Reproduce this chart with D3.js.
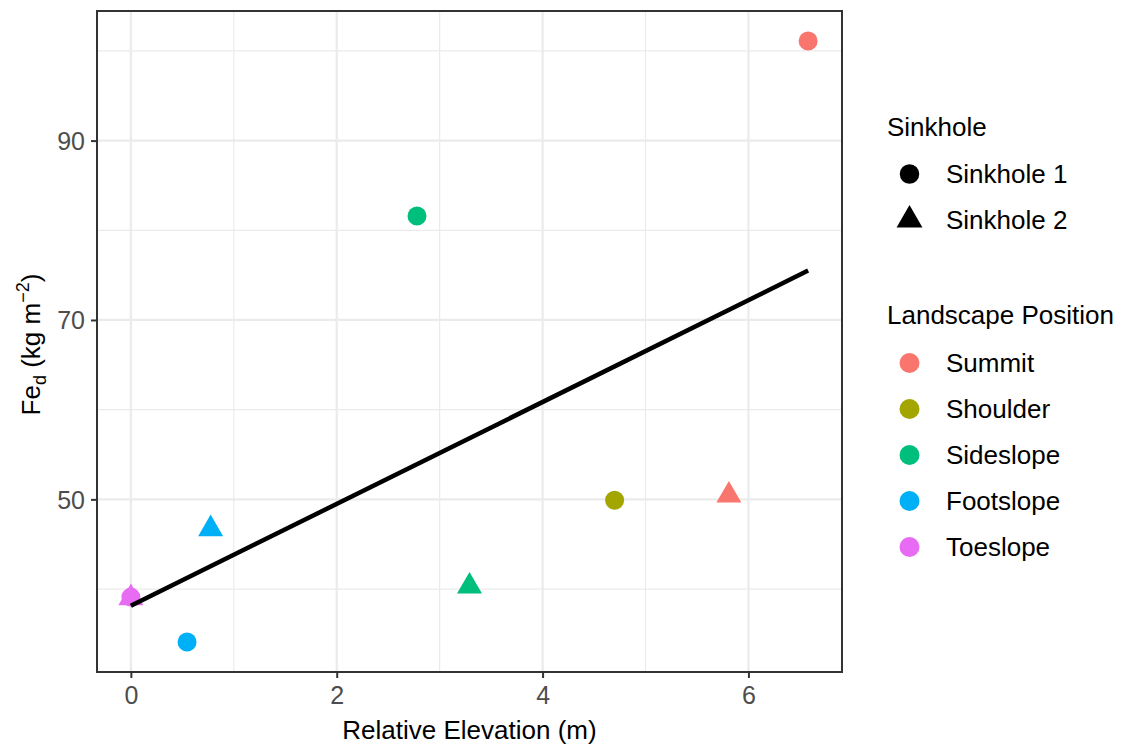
<!DOCTYPE html>
<html>
<head>
<meta charset="utf-8">
<style>
  body { margin: 0; background: #fff; }
  svg { font-family: "Liberation Sans", Arial, Helvetica, sans-serif; }
</style>
</head>
<body>
<svg width="1126" height="747"></svg>
<script src="https://d3js.org/d3.v7.min.js"></script>
<script>
// values
var positions = ["Summit", "Shoulder", "Sideslope", "Footslope", "Toeslope"];
var posColors = ["#F8766D", "#A3A500", "#00BF7D", "#00B0F6", "#E76BF3"];
var sinkholes = ["Sinkhole 1", "Sinkhole 2"];

var elevation = [6.58, 5.81, 4.70, 2.78, 3.29, 0.546, 0.775, 0.0, 0.0];
var fed       = [101.1, 50.45, 49.9, 81.6, 40.3, 34.1, 46.7, 39.1, 39.0];
var pos       = ["Summit", "Summit", "Shoulder", "Sideslope", "Sideslope",
                 "Footslope", "Footslope", "Toeslope", "Toeslope"];
var hole      = ["Sinkhole 1", "Sinkhole 2", "Sinkhole 1", "Sinkhole 1", "Sinkhole 2",
                 "Sinkhole 1", "Sinkhole 2", "Sinkhole 1", "Sinkhole 2"];

var xMajor = [0, 2, 4, 6], xMinor = [1, 3, 5];
var yMajor = [50, 70, 90], yMinor = [40, 60, 80, 100];

var pts = elevation.map(function(e, i) {
  return {x: e, y: fed[i], pos: pos[i], hole: hole[i]};
});

var svg = d3.select("svg");
var pL = 97, pR = 842, pT = 11, pB = 672;

// ggplot style 5% expansion
var xr = d3.extent(elevation), yr = d3.extent(fed);
var xpad = (xr[1] - xr[0]) * 0.05, ypad = (yr[1] - yr[0]) * 0.05;
var x = d3.scaleLinear().domain([xr[0] - xpad, xr[1] + xpad]).range([pL, pR]);
var y = d3.scaleLinear().domain([yr[0] - ypad, yr[1] + ypad]).range([pB, pT]);

var color = d3.scaleOrdinal().domain(positions).range(posColors);
var shape = d3.scaleOrdinal().domain(sinkholes).range([d3.symbolCircle, d3.symbolTriangle]);

// grid
var g = svg.append("g");
g.selectAll(".xmin").data(xMinor).enter().append("line")
  .attr("x1", d => x(d)).attr("x2", d => x(d)).attr("y1", pT).attr("y2", pB)
  .attr("stroke", "#ebebeb").attr("stroke-width", 1.2);
g.selectAll(".ymin").data(yMinor).enter().append("line")
  .attr("y1", d => y(d)).attr("y2", d => y(d)).attr("x1", pL).attr("x2", pR)
  .attr("stroke", "#ebebeb").attr("stroke-width", 1.2);
g.selectAll(".xmaj").data(xMajor).enter().append("line")
  .attr("x1", d => x(d)).attr("x2", d => x(d)).attr("y1", pT).attr("y2", pB)
  .attr("stroke", "#ebebeb").attr("stroke-width", 2.2);
g.selectAll(".ymaj").data(yMajor).enter().append("line")
  .attr("y1", d => y(d)).attr("y2", d => y(d)).attr("x1", pL).attr("x2", pR)
  .attr("stroke", "#ebebeb").attr("stroke-width", 2.2);

// linear fit
var mx = d3.mean(elevation), my = d3.mean(fed);
var sxy = d3.sum(pts, d => (d.x - mx) * (d.y - my));
var sxx = d3.sum(pts, d => (d.x - mx) * (d.x - mx));
var slope = sxy / sxx, icpt = my - slope * mx;
var fit = xr.map(v => [v, icpt + slope * v]);

// points
svg.append("g").selectAll("path").data(pts).enter().append("path")
  .attr("transform", d => "translate(" + x(d.x) + "," + y(d.y) + ")")
  .attr("d", d => d3.symbol().type(shape(d.hole)).size(d.hole === "Sinkhole 1" ? 283 : 270)())
  .attr("fill", d => color(d.pos));

svg.append("path").datum(fit)
  .attr("d", d3.line().x(d => x(d[0])).y(d => y(d[1])))
  .attr("fill", "none").attr("stroke", "#000").attr("stroke-width", 4.5);

// axes
var xAxis = svg.append("g").attr("transform", "translate(0," + pB + ")")
  .call(d3.axisBottom(x).tickValues(xMajor).tickSize(6).tickPadding(5).tickFormat(d3.format("d")));
var yAxis = svg.append("g").attr("transform", "translate(" + pL + ",0)")
  .call(d3.axisLeft(y).tickValues(yMajor).tickSize(6).tickPadding(6).tickFormat(d3.format("d")));
[xAxis, yAxis].forEach(function(a) {
  a.select(".domain").remove();
  a.selectAll(".tick line").attr("stroke", "#333").attr("stroke-width", 2);
  a.selectAll(".tick text").attr("fill", "#4d4d4d").style("font-size", "25px").attr("font-family", null);
});
xAxis.selectAll(".tick text").attr("dy", "0.85em");
yAxis.selectAll(".tick text").attr("dy", "0.35em");

// panel border
svg.append("rect").attr("x", pL).attr("y", pT)
  .attr("width", pR - pL).attr("height", pB - pT)
  .attr("fill", "none").attr("stroke", "#333").attr("stroke-width", 2);

// axis titles
svg.append("text").attr("x", (pL + pR) / 2).attr("y", 739)
  .attr("text-anchor", "middle").style("font-size", "26px").text("Relative Elevation (m)");

var yt = svg.append("text").attr("transform", "translate(40," + ((pT + pB) / 2 + 3) + ") rotate(-90)")
  .attr("text-anchor", "middle").style("font-size", "26px");
yt.append("tspan").text("Fe");
yt.append("tspan").attr("dy", 6).style("font-size", "18px").text("d");
yt.append("tspan").attr("dy", -6).text(" (kg m");
yt.append("tspan").attr("dy", -11).style("font-size", "18px").text("\u22122");
yt.append("tspan").attr("dy", 11).text(")");

// legends
var lx = 887, kx = 909.5, tx = 946;
svg.append("text").attr("x", lx).attr("y", 136).style("font-size", "26px").text("Sinkhole");
var l1 = svg.append("g").selectAll("g").data(sinkholes).enter().append("g")
  .attr("transform", (d, i) => "translate(0," + (174 + i * 46) + ")");
l1.append("path").attr("transform", "translate(" + kx + ",0)")
  .attr("d", d => d3.symbol().type(shape(d)).size(d === "Sinkhole 1" ? 300 : 290)())
  .attr("fill", "#000");
l1.append("text").attr("x", tx).attr("y", 9).style("font-size", "26px").text(d => d);

svg.append("text").attr("x", lx).attr("y", 324).style("font-size", "26px").text("Landscape Position");
var l2 = svg.append("g").selectAll("g").data(positions).enter().append("g")
  .attr("transform", (d, i) => "translate(0," + (363 + i * 46) + ")");
l2.append("circle").attr("cx", kx).attr("r", 10).attr("fill", d => color(d));
l2.append("text").attr("x", tx).attr("y", 9).style("font-size", "26px").text(d => d);
</script>
</body>
</html>
